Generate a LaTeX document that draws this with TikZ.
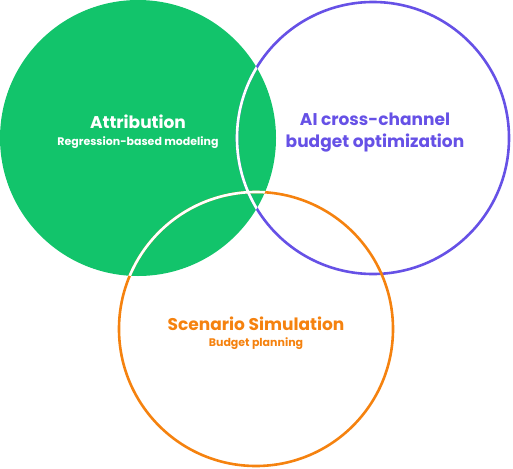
\documentclass[tikz,border=0pt]{standalone}
\usepackage{fontspec}
\setmainfont{Poppins}
\usepackage{xcolor}
\usetikzlibrary{positioning}

\definecolor{attrgreen}{HTML}{12C46B}
\definecolor{aipurple}{HTML}{6651E6}
\definecolor{scenorange}{HTML}{F5820F}

\begin{document}
\begin{tikzpicture}[x=1pt, y=-1pt,
    ring/.style={circle, inner sep=0pt, outer sep=0pt, line width=2.6pt},
    gap/.style={draw=white, line width=2.6pt},
    title/.style={font=\bfseries\fontsize{17}{22}\selectfont, align=center, inner sep=0pt},
    sub/.style={font=\bfseries\fontsize{11}{13}\selectfont, inner sep=0pt}
]
    \useasboundingbox (0,0) rectangle (513,468);

    % Drei Kreise
    \node[ring, fill=attrgreen, minimum size=276pt] (attr) at (138,138) {};
    \node[ring, draw=aipurple, minimum size=272pt] (aiopt) at (373,138) {};
    \node[ring, draw=scenorange, minimum size=274pt] (scen) at (256,329) {};

    % weisse Boegen innerhalb des gruenen Kreises
    \begin{scope}
        \clip (attr.center) circle (138);
        \draw[gap] (aiopt.center) circle (136);
        \draw[gap] (scen.center) circle (137);
    \end{scope}

    % Beschriftungen
    \node[title, text=white] (attrtitle) at (138,122) {Attribution};
    \node[sub, text=white] (attrsub) at (138,143) {Regression-based modeling};

    \node[title, text=aipurple] (aititle) at (375,133) {AI cross-channel\\budget optimization};

    \node[title, text=scenorange] (scentitle) at (256,324) {Scenario Simulation};
    \node[sub, text=scenorange] (scensub) at (256,344) {Budget planning};
\end{tikzpicture}
\end{document}
